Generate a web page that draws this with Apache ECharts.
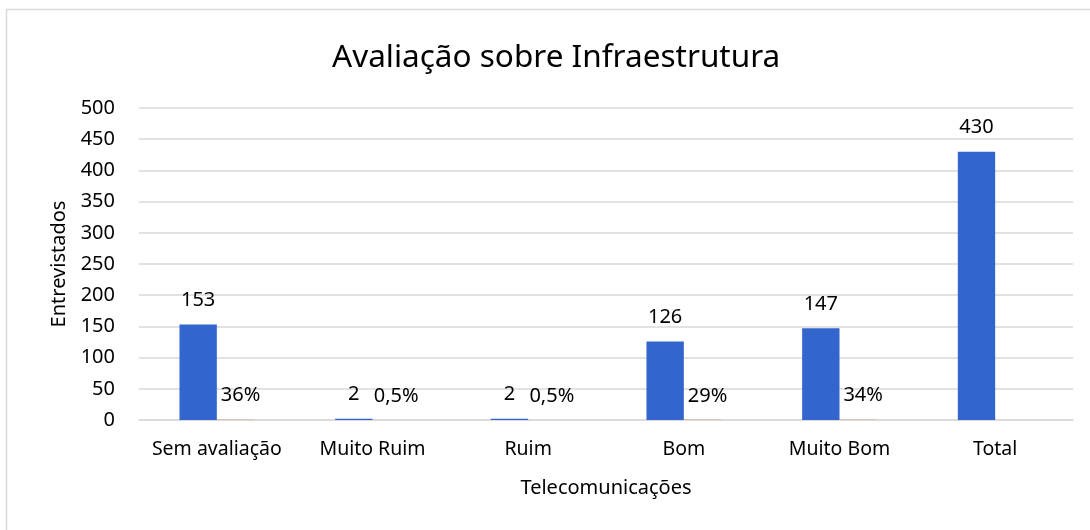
<!DOCTYPE html>
<html>
<head>
<meta charset="utf-8">
<script src="https://cdn.jsdelivr.net/npm/echarts@6/dist/echarts.min.js"></script>
<style>
  html, body { margin: 0; padding: 0; background: #fff; }
  #chart { width: 1090px; height: 530px; }
</style>
</head>
<body>
<div id="chart"></div>
<script>
// dados do gráfico
var categorias = ['Sem avaliação', 'Muito Ruim', 'Ruim', 'Bom', 'Muito Bom', 'Total'];
var entrevistados = [153, 2, 2, 126, 147, 430];
var percentuais = [0.36, 0.005, 0.005, 0.29, 0.34, null];
var ticksY = { min: 0, max: 500, interval: 50 };

var fonte = '"Noto Sans", "Open Sans", sans-serif';

function formatarPct(v) {
	var p = Math.round(v * 1000) / 10;
	return String(p).replace('.', ',') + '%';
}

var myChart = echarts.init(document.getElementById('chart'));
var option = {
	animation: false,
	textStyle: { fontFamily: fonte },
	title: {
		text: 'Avaliação sobre Infraestrutura',
		left: 327,
		top: 37,
		textStyle: { fontFamily: fonte, fontSize: 31.5, fontWeight: 'normal', color: '#000' }
	},
	graphic: [{
		type: 'rect',
		shape: { x: 6.5, y: 9.5, width: 1200, height: 600 },
		style: { fill: 'none', stroke: '#d9d9d9', lineWidth: 1.5 },
		silent: true
	}],
	grid: { left: 139, right: 17, top: 108, bottom: 110 },
	xAxis: {
		type: 'category',
		data: categorias,
		name: 'Telecomunicações',
		nameLocation: 'middle',
		nameGap: 58,
		nameTextStyle: { fontFamily: fonte, fontSize: 20, color: '#000' },
		axisLine: { lineStyle: { color: '#d9d9d9', width: 1.5 } },
		axisTick: { show: false },
		axisLabel: { interval: 0, fontFamily: fonte, fontSize: 19.5, color: '#000', margin: 19 }
	},
	yAxis: {
		type: 'value',
		min: ticksY.min,
		max: ticksY.max,
		interval: ticksY.interval,
		name: 'Entrevistados',
		nameLocation: 'middle',
		nameGap: 70,
		nameTextStyle: { fontFamily: fonte, fontSize: 20, color: '#000' },
		axisLine: { show: false },
		axisTick: { show: false },
		splitLine: { lineStyle: { color: '#d9d9d9', width: 1.5 } },
		axisLabel: { fontFamily: fonte, fontSize: 20, color: '#000', margin: 24 }
	},
	series: [
		{
			name: 'Entrevistados',
			type: 'bar',
			data: entrevistados,
			barGap: 0,
			barCategoryGap: '52%',
			itemStyle: { color: '#3366cc' },
			label: {
				show: true,
				position: 'top',
				distance: 14,
				fontFamily: fonte,
				fontSize: 20,
				color: '#000'
			}
		},
		{
			name: 'Percentual',
			type: 'bar',
			data: percentuais,
			barGap: 0,
			barCategoryGap: '52%',
			itemStyle: { color: '#ed7d31' },
			label: {
				show: true,
				position: 'top',
				distance: 14,
				offset: [5, 0],
				fontFamily: fonte,
				fontSize: 20,
				color: '#000',
				formatter: function (p) { return formatarPct(p.value); }
			}
		}
	]
};
myChart.setOption(option);
window.addEventListener('resize', function () {
	myChart.resize();
});
</script>
</body>
</html>
